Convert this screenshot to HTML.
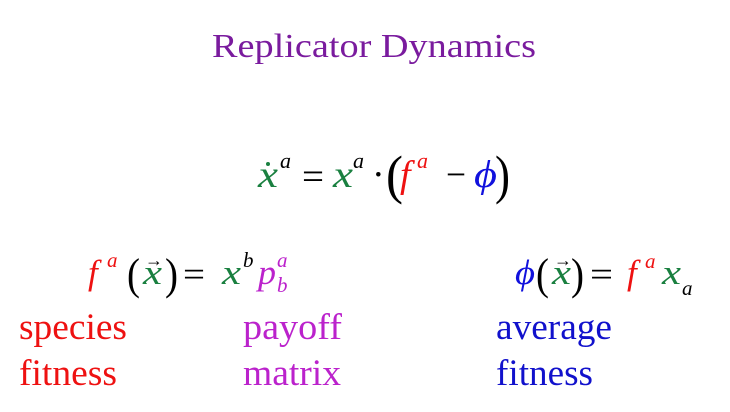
<!DOCTYPE html>
<html><head><meta charset="utf-8"><style>
html,body{margin:0;padding:0;background:#fff;width:730px;height:412px;overflow:hidden}
svg{display:block}
text{font-family:"Liberation Serif",serif}
</style></head><body>
<svg width="730" height="412" viewBox="0 0 730 412" xmlns="http://www.w3.org/2000/svg">
<text x="212" y="57" font-size="34" fill="#7a1b9e" textLength="324" lengthAdjust="spacingAndGlyphs">Replicator Dynamics</text>

<!-- main equation -->
<g font-size="38">
<text x="258" y="187" fill="#1a8040" font-style="italic" textLength="20" lengthAdjust="spacingAndGlyphs">x</text>
<circle cx="268" cy="164" r="2" fill="#1a8040"/>
<text x="280" y="168" font-size="22" font-style="italic" fill="#000">a</text>
<text x="302" y="189" fill="#000" textLength="22" lengthAdjust="spacingAndGlyphs">=</text>
<text x="333" y="187" fill="#1a8040" font-style="italic" textLength="20" lengthAdjust="spacingAndGlyphs">x</text>
<text x="353" y="168" font-size="22" font-style="italic" fill="#000">a</text>
<text x="372" y="187" fill="#000">·</text>
<text x="386" y="193" font-size="54" fill="#000" textLength="17" lengthAdjust="spacingAndGlyphs">(</text>
<text x="400" y="187" fill="#ee1111" font-style="italic">f</text>
<text x="417" y="168" font-size="22" font-style="italic" fill="#ee1111">a</text>
<text x="446" y="187" fill="#000" textLength="20" lengthAdjust="spacingAndGlyphs">−</text>
<text x="474" y="187" fill="#1111dd" font-style="italic" textLength="23" lengthAdjust="spacingAndGlyphs">ϕ</text>
<text x="495" y="193" font-size="54" fill="#000" textLength="15" lengthAdjust="spacingAndGlyphs">)</text>
</g>

<!-- left equation -->
<g font-size="35">
<text x="88" y="284" fill="#ee1111" font-style="italic">f</text>
<text x="107" y="267" font-size="21" font-style="italic" fill="#ee1111">a</text>
<text x="127" y="289" font-size="44" fill="#000" textLength="13" lengthAdjust="spacingAndGlyphs">(</text>
<text x="143" y="284" fill="#1a8040" font-style="italic" textLength="19" lengthAdjust="spacingAndGlyphs">x</text>
<text x="145" y="266" font-size="18" fill="#000">→</text>
<text x="165" y="289" font-size="44" fill="#000" textLength="13" lengthAdjust="spacingAndGlyphs">)</text>
<text x="183" y="286" fill="#000" textLength="22" lengthAdjust="spacingAndGlyphs">=</text>
<text x="222" y="284" fill="#1a8040" font-style="italic" textLength="19" lengthAdjust="spacingAndGlyphs">x</text>
<text x="243" y="267" font-size="21" font-style="italic" fill="#000">b</text>
<text x="258" y="284" fill="#bb22cc" font-style="italic" textLength="18" lengthAdjust="spacingAndGlyphs">p</text>
<text x="277" y="267" font-size="21" font-style="italic" fill="#bb22cc">a</text>
<text x="277" y="292" font-size="21" font-style="italic" fill="#bb22cc">b</text>
</g>

<!-- right equation -->
<g font-size="35">
<text x="515" y="284" fill="#1111dd" font-style="italic" textLength="20" lengthAdjust="spacingAndGlyphs">ϕ</text>
<text x="536" y="289" font-size="44" fill="#000" textLength="13" lengthAdjust="spacingAndGlyphs">(</text>
<text x="552" y="284" fill="#1a8040" font-style="italic" textLength="19" lengthAdjust="spacingAndGlyphs">x</text>
<text x="554" y="266" font-size="18" fill="#000">→</text>
<text x="571" y="289" font-size="44" fill="#000" textLength="13" lengthAdjust="spacingAndGlyphs">)</text>
<text x="590" y="286" fill="#000" textLength="23" lengthAdjust="spacingAndGlyphs">=</text>
<text x="627" y="284" fill="#ee1111" font-style="italic">f</text>
<text x="645" y="268" font-size="21" font-style="italic" fill="#ee1111">a</text>
<text x="662" y="284" fill="#1a8040" font-style="italic" textLength="19" lengthAdjust="spacingAndGlyphs">x</text>
<text x="682" y="295" font-size="21" font-style="italic" fill="#000">a</text>
</g>

<!-- labels -->
<g font-size="37">
<text x="19" y="339" fill="#ee1111" textLength="108" lengthAdjust="spacingAndGlyphs">species</text>
<text x="19" y="385" fill="#ee1111" textLength="98" lengthAdjust="spacingAndGlyphs">fitness</text>
<text x="243" y="339" fill="#bb22cc" textLength="99" lengthAdjust="spacingAndGlyphs">payoff</text>
<text x="243" y="385" fill="#bb22cc" textLength="98" lengthAdjust="spacingAndGlyphs">matrix</text>
<text x="496" y="339" fill="#1111cc" textLength="116" lengthAdjust="spacingAndGlyphs">average</text>
<text x="496" y="385" fill="#1111cc" textLength="97" lengthAdjust="spacingAndGlyphs">fitness</text>
</g>
</svg>
</body></html>
